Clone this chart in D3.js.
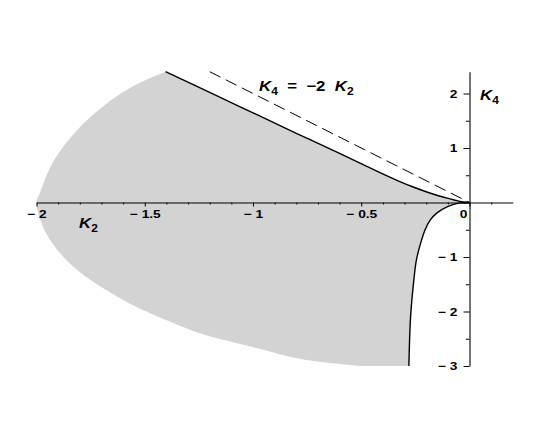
<!DOCTYPE html>
<html>
<head>
<meta charset="utf-8">
<script src="https://cdn.jsdelivr.net/npm/d3@7"></script>
<style>
  html, body { margin: 0; padding: 0; background: #fff; }
  svg { display: block; font-family: "Liberation Sans", Arial, sans-serif; }
</style>
</head>
<body>
<svg id="chart" width="554" height="443"></svg>
<script>
// ---------- data ----------
// upper solid boundary, from the top-left corner down to the origin
const upperK2 = [-1.404, -1.2, -1.0, -0.8, -0.6, -0.411, -0.319, -0.257, -0.18, -0.103, -0.05, 0];
const upperK4 = [2.40, 2.02, 1.645, 1.27, 0.90, 0.545, 0.38, 0.28, 0.17, 0.08, 0.025, 0];
// lower solid boundary, from the origin down to K4 = -3
const lowerK2 = [0, -0.05, -0.104, -0.15, -0.181, -0.205, -0.226, -0.245, -0.257, -0.272, -0.28];
const lowerK4 = [0, -0.012, -0.08, -0.19, -0.32, -0.5, -0.75, -1.05, -1.42, -2.09, -3.0];
// outer (unstroked) edge of the shaded region, from the bottom round to the top
const outerK2 = [-0.5, -0.78, -1.01, -1.22, -1.44, -1.60, -1.83, -1.955, -2.0, -1.986, -1.92, -1.80, -1.64, -1.52, -1.404];
const outerK4 = [-3.0, -2.87, -2.64, -2.43, -2.09, -1.79, -1.18, -0.57, 0, 0.16, 0.77, 1.38, 1.92, 2.2, 2.40];
// dashed reference line K4 = -2 K2
const dashK2 = [-1.2, 0];
const dashK4 = [2.4, 0];

const xMajor = [-2, -1.5, -1, -0.5, 0];
const xMinor = [-1.9, -1.8, -1.7, -1.6, -1.4, -1.3, -1.2, -1.1, -0.9, -0.8, -0.7, -0.6, -0.4, -0.3, -0.2, -0.1, 0.1];
const yMajor = [-3, -2, -1, 0, 1, 2];
const yMinor = [-2.5, -1.5, -0.5, 0.5, 1.5];

// ---------- scales ----------
const svg = d3.select("#chart");
const x = d3.scaleLinear().domain([-2, 0.2]).range([36.5, 512.8]);
const y = d3.scaleLinear().domain([-3, 2.4]).range([366, 71.7]);

const zip = (a, b) => a.map((v, i) => [v, b[i]]);
const smooth = d3.line().x((d) => x(d[0])).y((d) => y(d[1])).curve(d3.curveCatmullRom.alpha(0.5));
const straight = d3.line().x((d) => x(d[0])).y((d) => y(d[1]));

const upper = zip(upperK2, upperK4);
const lower = zip(lowerK2, lowerK4);
const outer = zip(outerK2, outerK4);

// shaded region: join the three pieces into one closed path
const regionPath = smooth(upper) + smooth(lower).replace(/^M/, "L") + smooth(outer).replace(/^M/, "L") + "Z";
svg.append("path").attr("d", regionPath).attr("fill", "#d3d3d3").attr("stroke", "none");

svg.append("path")
  .attr("d", straight(zip(dashK2, dashK4)))
  .attr("fill", "none")
  .attr("stroke", "#000")
  .attr("stroke-width", 1)
  .attr("stroke-dasharray", "12,6");

[upper, lower].forEach((pts) => {
  svg.append("path")
    .attr("d", smooth(pts))
    .attr("fill", "none")
    .attr("stroke", "#000")
    .attr("stroke-width", 1.4);
});

// ---------- axes ----------
const fmt = (d) => (d < 0 ? "\u2212 " + Math.abs(d) : String(d));
const stretch = 1.25;

const gx = svg.append("g").attr("transform", `translate(0,${y(0)})`);
gx.call(d3.axisBottom(x).tickValues(xMinor).tickSize(2).tickSizeOuter(0).tickFormat(""));
gx.call((g) => g.select(".domain").remove());
const gxMajor = svg.append("g").attr("transform", `translate(0,${y(0)})`)
  .call(d3.axisBottom(x).tickValues(xMajor).tickSize(4).tickSizeOuter(0).tickFormat(fmt));
gxMajor.selectAll("text")
  .attr("y", 8)
  .attr("x", (d) => (d === 0 ? -6.5 / stretch : 0))
  .attr("transform", `scale(${stretch},1)`);

const gy = svg.append("g").attr("transform", `translate(${x(0)},0)`);
gy.call(d3.axisLeft(y).tickValues(yMinor).tickSize(3.5).tickSizeOuter(0).tickFormat(""));
gy.call((g) => g.select(".domain").remove());
const gyMajor = svg.append("g").attr("transform", `translate(${x(0)},0)`)
  .call(d3.axisLeft(y).tickValues(yMajor).tickSize(6).tickSizeOuter(0).tickFormat(fmt));
gyMajor.selectAll(".tick").filter((d) => d === 0).select("text").remove();
gyMajor.selectAll("text")
  .attr("x", -12 / stretch)
  .attr("transform", `scale(${stretch},1)`);

svg.selectAll(".domain").attr("stroke", "#000").attr("stroke-width", 1.1);
svg.selectAll(".tick line").attr("stroke", "#000");
svg.selectAll(".tick text")
  .attr("fill", "#000")
  .attr("font-size", 11)
  .attr("font-weight", "bold")
  .attr("font-family", "'Liberation Sans', Arial, sans-serif");

// ---------- labels ----------
function kLabel(px, py, sub, extra) {
  const t = svg.append("text")
    .attr("transform", `translate(${px},${py}) scale(1.2,1)`)
    .attr("font-size", 14)
    .attr("font-weight", "bold")
    .attr("fill", "#000")
    .attr("xml:space", "preserve");
  t.append("tspan").attr("font-style", "italic").text("K");
  t.append("tspan").attr("font-size", 10).attr("dy", 4).text(sub);
  if (extra) extra(t);
  return t;
}

kLabel(79, 228, "2");
kLabel(480, 100, "4");
kLabel(259, 91, "4", (t) => {
  t.append("tspan").attr("dy", -4).text("  =  \u22122  ");
  t.append("tspan").attr("font-style", "italic").text("K");
  t.append("tspan").attr("font-size", 10).attr("dy", 4).text("2");
});
</script>
</body>
</html>
